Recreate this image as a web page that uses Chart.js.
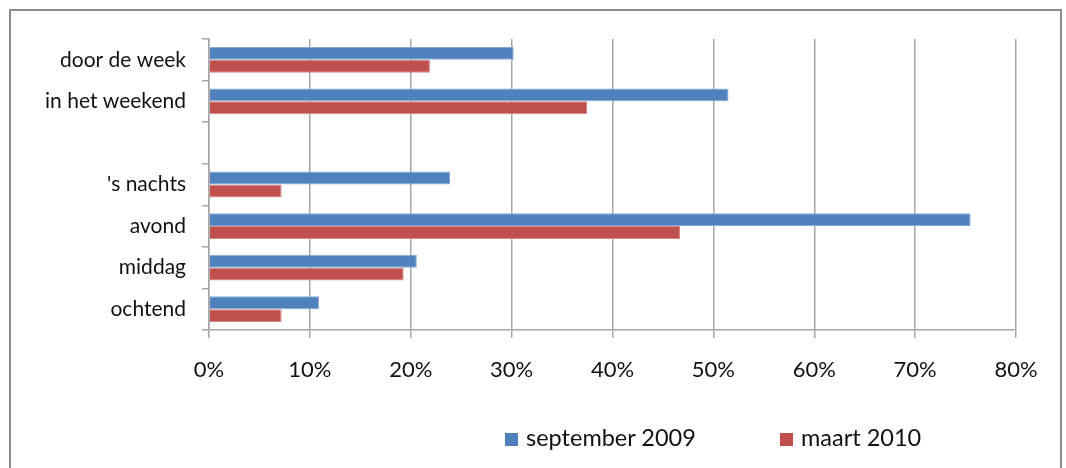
<!DOCTYPE html>
<html>
<head>
<meta charset="utf-8">
<script src="https://cdn.jsdelivr.net/npm/chart.js@4.4.1/dist/chart.umd.min.js"></script>
<style>
    html, body { margin: 0; padding: 0; background: #fff; }
    #wrap { position: relative; width: 1066px; height: 468px; overflow: hidden; }
    #frame {
        position: absolute; left: 9px; top: 9px; width: 1053px; height: 480px;
        border: 2px solid #8c8c8c; box-sizing: border-box; pointer-events: none;
    }
    #chart { position: absolute; left: 0; top: 0; }
    #legend {
        position: absolute; top: 423px; left: 0; width: 1066px; height: 28px;
        font-family: Lato, "Open Sans", sans-serif; font-size: 23.5px; color: #111;
    }
    .legend-item { position: absolute; top: 0; line-height: 28px; white-space: nowrap; }
    .legend-box { display: inline-block; width: 13px; height: 13px; margin-right: 8px; vertical-align: 0px; }
</style>
</head>
<body>
<div id="wrap">
    <canvas id="chart" width="1066" height="468"></canvas>
    <div id="frame"></div>
    <div id="legend"></div>
</div>
<script>
// categories top to bottom, third row is an empty spacer in the original
const categories = ['door de week', 'in het weekend', '', "'s nachts", 'avond', 'middag', 'ochtend'];

// share of respondents (%)
const september2009 = [30.2, 51.5, null, 23.9, 75.5, 20.6, 10.9];
const maart2010 = [21.9, 37.5, null, 7.2, 46.7, 19.3, 7.2];

const seriesNames = ['september 2009', 'maart 2010'];
const xTicks = [0, 10, 20, 30, 40, 50, 60, 70, 80];

const textFont = 'Lato, "Open Sans", sans-serif';
const gridColor = '#a6a6a6';

const ctx = document.getElementById('chart');

const chart = new Chart(ctx, {
    type: 'bar',
    data: {
        labels: categories,
        datasets: [
            {
                label: seriesNames[0],
                data: september2009,
                backgroundColor: '#4f81bd',
                borderColor: '#86a7d3',
                borderWidth: 1
            },
            {
                label: seriesNames[1],
                data: maart2010,
                backgroundColor: '#c0504d',
                borderColor: '#d58886',
                borderWidth: 1
            }
        ]
    },
    options: {
        indexAxis: 'y',
        responsive: false,
        animation: false,
        categoryPercentage: 0.62,
        barPercentage: 1.0,
        layout: {
            padding: { left: 20, right: 50, top: 39, bottom: 78 }
        },
        plugins: {
            legend: { display: false },
            tooltip: { enabled: false }
        },
        scales: {
            x: {
                min: 0,
                max: 80,
                afterBuildTicks: (axis) => {
                    axis.ticks = xTicks.map(v => ({ value: v }));
                },
                afterFit: (axis) => { axis.height = 60; },
                ticks: {
                    color: '#111',
                    font: { family: textFont, size: 22 },
                    padding: 19,
                    maxRotation: 0,
                    callback: (v) => v + '%'
                },
                grid: {
                    color: gridColor,
                    lineWidth: 1.5,
                    tickLength: 8
                },
                border: { color: gridColor, width: 1.5 }
            },
            y: {
                afterFit: (axis) => { axis.width = 189; },
                ticks: {
                    color: '#111',
                    font: { family: textFont, size: 21 },
                    padding: 16
                },
                grid: {
                    offset: true,
                    drawOnChartArea: false,
                    color: gridColor,
                    lineWidth: 1.5,
                    tickLength: 7
                },
                border: { color: gridColor, width: 1.5 }
            }
        }
    }
});

// legend below the plot, built from the dataset names and colours
const legendEl = document.getElementById('legend');
const legendLeft = [505, 780];
chart.data.datasets.forEach((ds, i) => {
    const item = document.createElement('span');
    item.className = 'legend-item';
    item.style.left = legendLeft[i] + 'px';
    const box = document.createElement('span');
    box.className = 'legend-box';
    box.style.background = ds.backgroundColor;
    item.appendChild(box);
    item.appendChild(document.createTextNode(ds.label));
    legendEl.appendChild(item);
});
</script>
</body>
</html>
